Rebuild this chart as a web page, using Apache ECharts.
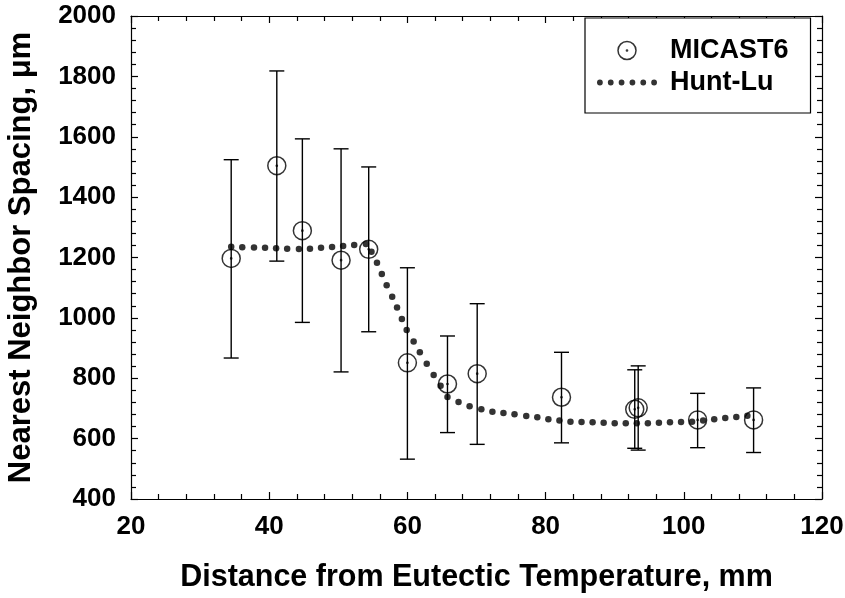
<!DOCTYPE html>
<html>
<head>
<meta charset="utf-8">
<script src="https://cdn.jsdelivr.net/npm/echarts@6/dist/echarts.min.js"></script>
<style>
  html, body { margin: 0; padding: 0; background: #fff; }
  #chart { width: 845px; height: 598px; }
</style>
</head>
<body>
<div id="chart"></div>
<script>
// MICAST6 measurements: x, mean, error bar top / bottom
var micastX     = [34.5, 41.1, 44.8, 50.4, 54.4, 60.0, 65.8, 70.1, 82.3, 92.9, 93.4, 102.0, 110.1];
var micastY     = [1197, 1504, 1289, 1191, 1227, 851, 781, 815, 737, 697, 702, 662, 662];
var micastUpper = [1524, 1818, 1593, 1560, 1500, 1166, 940, 1047, 886, 828, 841, 750, 768];
var micastLower = [867, 1188, 985, 821, 954, 532, 620, 581, 586, 568, 562, 570, 554];

// Hunt-Lu model curve (dotted)
var huntX = [34.5, 36.1, 37.8, 39.4, 41.0, 42.6, 44.3, 45.9, 47.5, 49.1, 50.7, 52.3, 54.0,
             54.8, 55.6, 56.3, 57.0, 57.8, 58.5, 59.2, 59.9, 60.9, 61.8, 62.8, 63.8, 64.8,
             65.8, 67.4, 69.0, 70.7, 72.3, 73.9, 75.5, 77.2, 78.8, 80.4, 82.0, 83.6, 85.2,
             86.8, 88.4, 90.0, 91.6, 93.2, 94.8, 96.4, 98.0, 99.6, 101.2, 102.8, 104.4,
             106.0, 107.6, 109.2];
var huntY = [1236, 1234, 1233, 1232, 1231, 1229, 1228, 1229, 1232, 1235, 1238, 1241, 1245,
             1219, 1183, 1145, 1108, 1070, 1034, 996, 960, 922, 886, 848, 811, 775,
             738, 721, 707, 697, 689, 685, 681, 675, 671, 664, 660, 656, 655,
             654, 653, 651, 651, 651, 651, 653, 654, 655, 656, 660, 664,
             668, 672, 676];

var xTicks = { min: 20, max: 120, interval: 20 };
var yTicks = { min: 400, max: 2000, interval: 200 };

var FONT = 'Liberation Sans, Arial, Helvetica, sans-serif';

var circleDot = 'path://M0,9A9,9,0,1,1,18,9A9,9,0,1,1,0,9Z' +
                'M8.4,9A0.6,0.6,0,1,1,9.6,9A0.6,0.6,0,1,1,8.4,9Z';
var dotsIcon = 'path://';
for (var k = 0; k < 6; k++) {
    var cx = 3 + k * 11.2;
    dotsIcon += 'M' + (cx - 3) + ',3A3,3,0,1,1,' + (cx + 3) + ',3A3,3,0,1,1,' + (cx - 3) + ',3Z';
}

var micastData = micastX.map(function (x, i) { return [x, micastY[i]]; });
var errData = micastX.map(function (x, i) { return [x, micastLower[i], micastUpper[i]]; });
var huntData = huntX.map(function (x, i) { return [x, huntY[i]]; });

function boxAxis(base, pos, isMain) {
    return Object.assign({
        type: 'value',
        position: pos,
        splitLine: { show: false },
        axisLine: { show: true, onZero: false, lineStyle: { color: '#000', width: 1.2 } },
        axisTick: { show: true, inside: true, length: 7, lineStyle: { color: '#000', width: 1.2 } },
        minorTick: { show: true, splitNumber: 5, length: 5, lineStyle: { color: '#000', width: 1.2 } },
        axisLabel: {
            show: isMain,
            color: '#000',
            fontFamily: FONT,
            fontWeight: 'bold',
            fontSize: 26,
            margin: 15,
            formatter: function (v) { return String(v); }
        }
    }, base);
}

var myChart = echarts.init(document.getElementById('chart'), null, { renderer: 'canvas' });

option = {
    animation: false,
    backgroundColor: '#fff',
    grid: { left: 131, right: 23, top: 16, bottom: 99, outerBoundsMode: 'none' },
    legend: {
        orient: 'vertical',
        left: 585,
        top: 18,
        padding: [19, 22, 17, 12],
        itemWidth: 60,
        itemHeight: 18,
        itemGap: 5,
        borderColor: '#000',
        borderWidth: 1.2,
        borderRadius: 0,
        backgroundColor: '#fff',
        textStyle: {
            color: '#000',
            fontFamily: FONT,
            fontWeight: 'bold',
            fontSize: 27,
            padding: [0, 0, 0, 8]
        },
        data: [
            { name: 'MICAST6', icon: circleDot, itemStyle: { color: 'rgba(0,0,0,0)', borderColor: '#000', borderWidth: 1.5 } },
            { name: 'Hunt-Lu', icon: dotsIcon, itemStyle: { color: '#000', borderWidth: 0 } }
        ]
    },
    xAxis: [
        boxAxis({
            min: xTicks.min, max: xTicks.max, interval: xTicks.interval,
            name: 'Distance from Eutectic Temperature, mm',
            nameLocation: 'middle',
            nameGap: 63,
            nameTextStyle: { color: '#000', fontFamily: FONT, fontWeight: 'bold', fontSize: 30.5 }
        }, 'bottom', true),
        boxAxis({ min: xTicks.min, max: xTicks.max, interval: xTicks.interval }, 'top', false)
    ],
    yAxis: [
        boxAxis({
            min: yTicks.min, max: yTicks.max, interval: yTicks.interval,
            name: 'Nearest Neighbor Spacing, \u03bcm',
            nameLocation: 'middle',
            nameRotate: 90,
            nameGap: 94,
            nameTextStyle: { color: '#000', fontFamily: FONT, fontWeight: 'bold', fontSize: 31 }
        }, 'left', true),
        boxAxis({ min: yTicks.min, max: yTicks.max, interval: yTicks.interval }, 'right', false)
    ],
    series: [
        {
            name: 'errors',
            type: 'custom',
            xAxisIndex: 0,
            yAxisIndex: 0,
            silent: true,
            data: errData,
            renderItem: function (params, api) {
                var x = api.value(0);
                var lo = api.coord([x, api.value(1)]);
                var hi = api.coord([x, api.value(2)]);
                var half = 7.5;
                var st = { stroke: '#000', lineWidth: 1.4 };
                return {
                    type: 'group',
                    children: [
                        { type: 'line', shape: { x1: hi[0], y1: hi[1], x2: lo[0], y2: lo[1] }, style: st },
                        { type: 'line', shape: { x1: hi[0] - half, y1: hi[1], x2: hi[0] + half, y2: hi[1] }, style: st },
                        { type: 'line', shape: { x1: lo[0] - half, y1: lo[1], x2: lo[0] + half, y2: lo[1] }, style: st }
                    ]
                };
            },
            z: 2
        },
        {
            name: 'MICAST6',
            type: 'scatter',
            data: micastData,
            symbol: circleDot,
            symbolSize: 18,
            itemStyle: { color: 'rgba(0,0,0,0)', borderColor: '#000', borderWidth: 1.5 },
            z: 3
        },
        {
            name: 'Hunt-Lu',
            type: 'scatter',
            data: huntData,
            symbol: 'circle',
            symbolSize: 6.5,
            itemStyle: { color: '#000' },
            z: 4
        }
    ]
};

myChart.setOption(option);
</script>
</body>
</html>
